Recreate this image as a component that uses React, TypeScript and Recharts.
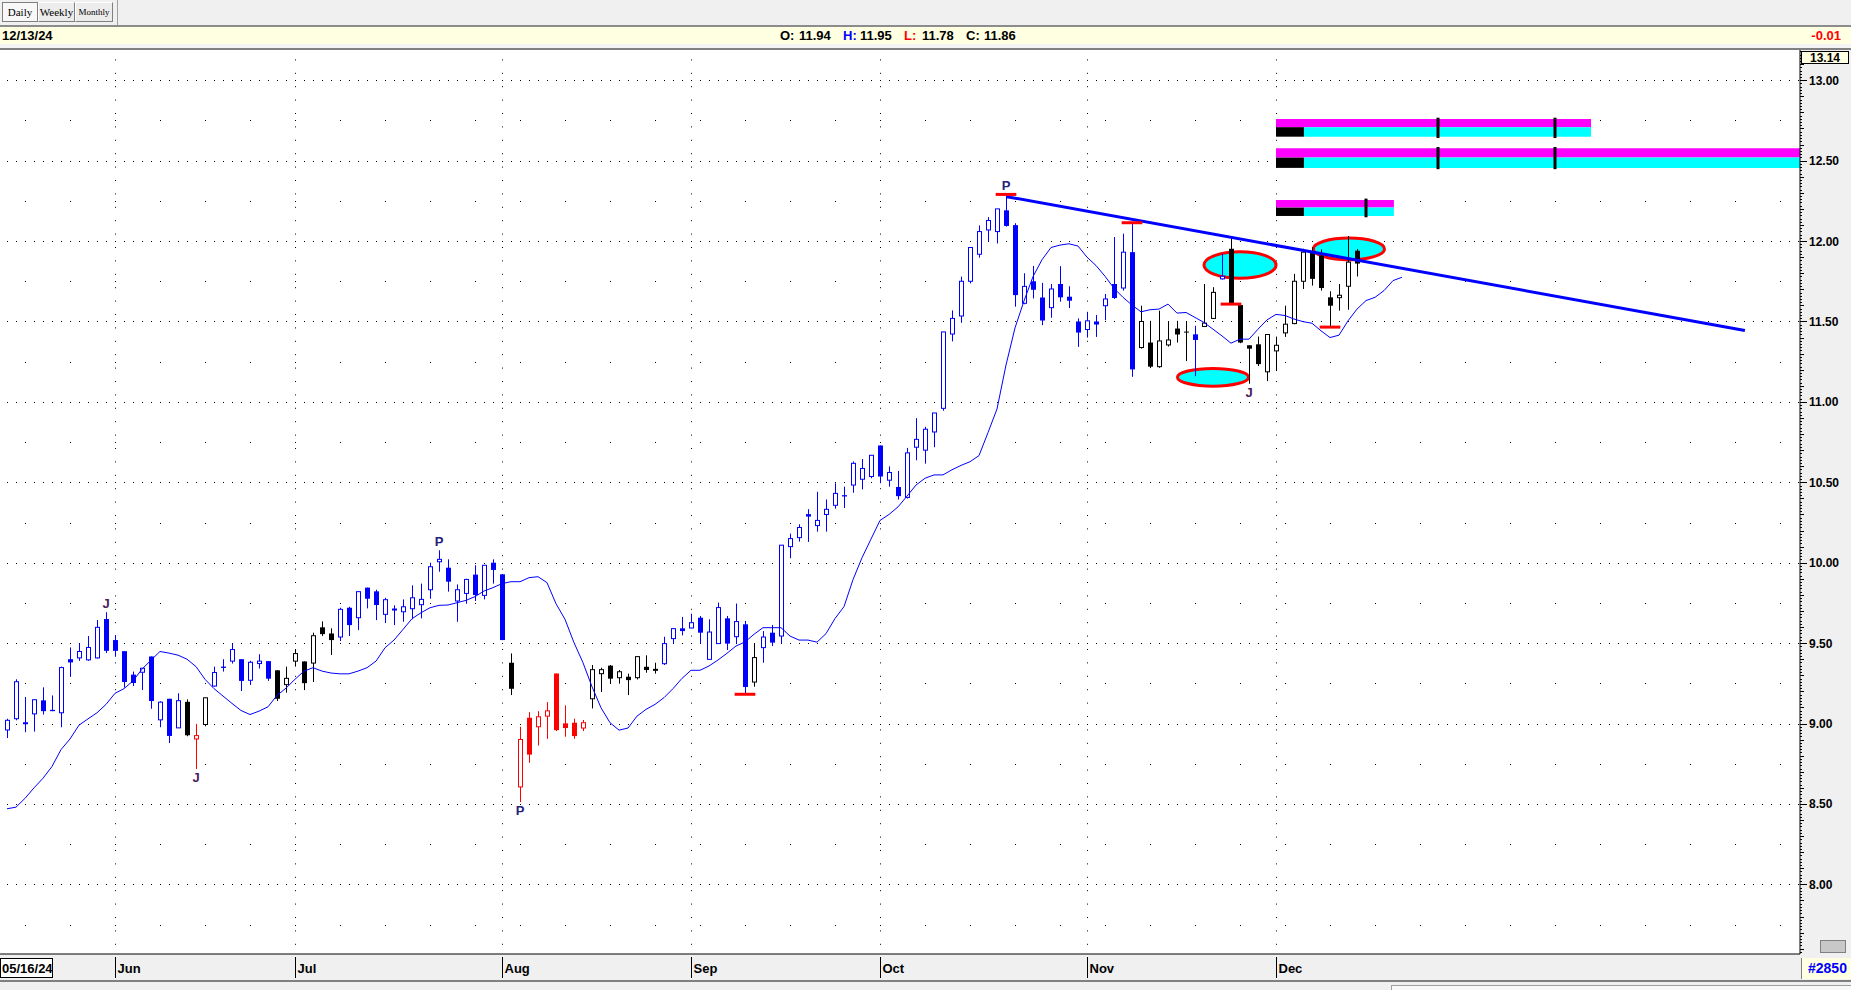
import React from 'react';
import {
  ComposedChart,
  Bar,
  Line,
  XAxis,
  YAxis,
  CartesianGrid,
  ReferenceLine,
  ReferenceArea,
  ReferenceDot,
} from 'recharts';

// daily candles, index 0 = first bar on the left
const opens = [
  8.96, 9.03, 9.0, 9.06, 9.144, 9.085, 9.067, 9.4, 9.408, 9.396,
  9.408, 9.65, 9.519, 9.45, 9.304, 9.319, 9.417, 9.023, 9.154, 8.973,
  9.135, 8.904, 8.994, 9.233, 9.354, 9.388, 9.4, 9.269, 9.373, 9.388,
  9.331, 9.242, 9.388, 9.386, 9.376, 9.598, 9.56, 9.538, 9.72, 9.658,
  9.845, 9.822, 9.679, 9.71, 9.695, 9.714, 9.739, 9.832, 10.006, 9.969,
  9.762, 9.809, 9.926, 9.797, 10.0, 9.928, 9.378, 8.606, 9.036, 8.98,
  9.046, 9.311, 9.001, 9.005, 8.972, 9.154, 9.31, 9.36, 9.285, 9.291,
  9.285, 9.353, 9.335, 9.372, 9.528, 9.592, 9.594, 9.658, 9.399, 9.497,
  9.654, 9.54, 9.617, 9.258, 9.472, 9.565, 9.544, 10.1, 10.156, 10.302,
  10.231, 10.3, 10.357, 10.42, 10.483, 10.519, 10.536, 10.729, 10.513, 10.471,
  10.406, 10.718, 10.7, 10.813, 10.96, 11.422, 11.534, 11.75, 11.918, 12.069,
  12.059, 12.191, 12.099, 11.613, 11.75, 11.649, 11.586, 11.733, 11.654, 11.5,
  11.45, 11.5, 11.598, 11.733, 11.708, 11.931, 11.338, 11.369, 11.219, 11.354,
  11.456, 11.437, 11.42, 11.469, 11.519, 11.765, 11.952, 11.602, 11.352, 11.358,
  11.187, 11.317, 11.429, 11.487, 11.75, 11.937, 11.91, 11.65, 11.648, 11.719,
  11.94,
];
const highs = [
  9.03, 9.275, 9.165, 9.15, 9.225, 9.175, 9.354, 9.473, 9.498, 9.544,
  9.644, 9.692, 9.55, 9.45, 9.323, 9.344, 9.417, 9.138, 9.154, 9.188,
  9.15, 8.998, 9.16, 9.354, 9.4, 9.498, 9.4, 9.39, 9.431, 9.388,
  9.331, 9.354, 9.463, 9.386, 9.565, 9.635, 9.592, 9.72, 9.726, 9.822,
  9.845, 9.832, 9.782, 9.735, 9.772, 9.859, 9.87, 10.0, 10.077, 10.021,
  9.865, 9.9, 9.984, 9.984, 10.021, 9.928, 9.436, 8.98, 9.071, 9.077,
  9.133, 9.311, 9.113, 9.03, 9.022, 9.364, 9.347, 9.364, 9.333, 9.31,
  9.418, 9.424, 9.378, 9.54, 9.592, 9.663, 9.683, 9.669, 9.648, 9.752,
  9.669, 9.746, 9.638, 9.499, 9.575, 9.613, 10.109, 10.181, 10.239, 10.333,
  10.441, 10.393, 10.494, 10.473, 10.63, 10.645, 10.668, 10.729, 10.599, 10.571,
  10.714, 10.899, 10.845, 10.931, 11.435, 11.569, 11.779, 11.96, 12.097, 12.149,
  12.2, 12.29, 12.111, 11.8, 11.845, 11.74, 11.733, 11.844, 11.719, 11.519,
  11.56, 11.54, 11.671, 12.025, 12.046, 12.114, 11.598, 11.504, 11.567, 11.5,
  11.504, 11.5, 11.473, 11.733, 11.713, 11.921, 12.025, 11.608, 11.352, 11.406,
  11.421, 11.406, 11.598, 11.796, 11.952, 11.962, 11.948, 11.688, 11.733, 12.031,
  11.95,
];
const lows = [
  8.91, 9.02, 8.946, 8.95, 9.056, 9.077, 8.977, 9.29, 9.39, 9.39,
  9.404, 9.438, 9.415, 9.223, 9.233, 9.208, 9.092, 8.977, 8.879, 8.973,
  8.921, 8.717, 8.983, 9.229, 9.323, 9.373, 9.202, 9.24, 9.342, 9.265,
  9.14, 9.192, 9.354, 9.208, 9.258, 9.544, 9.426, 9.513, 9.544, 9.581,
  9.716, 9.643, 9.625, 9.612, 9.633, 9.648, 9.654, 9.776, 9.944, 9.82,
  9.633, 9.745, 9.762, 9.772, 9.87, 9.519, 9.177, 8.511, 8.756, 8.863,
  8.905, 8.953, 8.918, 8.905, 8.953, 9.094, 9.196, 9.25, 9.248, 9.177,
  9.274, 9.316, 9.31, 9.364, 9.497, 9.548, 9.592, 9.497, 9.399, 9.497,
  9.457, 9.497, 9.185, 9.229, 9.378, 9.482, 9.497, 10.028, 10.131, 10.129,
  10.193, 10.193, 10.336, 10.34, 10.435, 10.456, 10.525, 10.494, 10.473, 10.393,
  10.399, 10.637, 10.616, 10.718, 10.945, 11.376, 11.492, 11.737, 11.897, 11.996,
  11.985, 12.09, 11.592, 11.607, 11.643, 11.477, 11.523, 11.623, 11.583, 11.342,
  11.4, 11.404, 11.508, 11.64, 11.692, 11.156, 11.331, 11.21, 11.212, 11.344,
  11.369, 11.254, 11.16, 11.469, 11.515, 11.76, 11.608, 11.365, 11.113, 11.223,
  11.129, 11.192, 11.404, 11.483, 11.702, 11.723, 11.692, 11.463, 11.567, 11.573,
  11.78,
];
const closes = [
  9.02, 9.26, 9.005, 9.148, 9.077, 9.077, 9.348, 9.38, 9.448, 9.473,
  9.598, 9.452, 9.452, 9.258, 9.252, 9.344, 9.14, 9.133, 8.923, 9.142,
  8.927, 8.925, 9.16, 9.317, 9.346, 9.46, 9.265, 9.381, 9.388, 9.279,
  9.154, 9.281, 9.435, 9.251, 9.546, 9.556, 9.519, 9.71, 9.612, 9.82,
  9.776, 9.737, 9.77, 9.712, 9.726, 9.782, 9.772, 9.975, 10.021, 9.882,
  9.832, 9.896, 9.799, 9.984, 9.955, 9.519, 9.216, 8.901, 8.807, 9.042,
  9.079, 8.959, 8.972, 8.922, 9.005, 9.335, 9.335, 9.279, 9.322, 9.27,
  9.416, 9.333, 9.337, 9.497, 9.59, 9.575, 9.627, 9.565, 9.569, 9.721,
  9.497, 9.634, 9.227, 9.41, 9.538, 9.503, 10.109, 10.15, 10.219, 10.287,
  10.263, 10.332, 10.431, 10.412, 10.618, 10.586, 10.668, 10.536, 10.561, 10.414,
  10.683, 10.767, 10.83, 10.931, 11.435, 11.519, 11.75, 11.96, 12.059, 12.128,
  12.2, 12.094, 11.664, 11.718, 11.697, 11.506, 11.702, 11.65, 11.629, 11.431,
  11.504, 11.481, 11.64, 11.646, 11.931, 11.202, 11.5, 11.219, 11.379, 11.385,
  11.419, 11.433, 11.385, 11.49, 11.681, 11.781, 11.608, 11.369, 11.331, 11.235,
  11.419, 11.352, 11.483, 11.75, 11.931, 11.765, 11.708, 11.598, 11.663, 11.869,
  11.86,
];
// b = blue, k = black, r = red
const candleColors = (
  'bbbbbbbbbbbbbbbbbbbb' + 'krkbbbbbbbkkkkkkkbbb' + 'bbbbbbbbbbbbbbbbkrrr' +
  'rrrrrkkkkkkkkbbbbbbb' + 'bbbkbbbbbbbbbbbbbbbb' + 'bbbbbbbbbbbbbbbbbbbb' +
  'bbbbbbkkkkkkbkkbkkkk' + 'kkkkkkkkkkk'
).split('');

// displaced moving average, runs 5 bars past the last candle
const movingAvg = [
  8.47, 8.48, 8.535, 8.6, 8.66, 8.733, 8.838, 8.904, 8.99, 9.029,
  9.067, 9.119, 9.188, 9.217, 9.265, 9.338, 9.394, 9.448, 9.438, 9.425,
  9.4, 9.354, 9.275, 9.217, 9.171, 9.125, 9.081, 9.056, 9.077, 9.104,
  9.175, 9.22, 9.275, 9.326, 9.347, 9.326, 9.314, 9.309, 9.309, 9.326,
  9.347, 9.388, 9.471, 9.519, 9.585, 9.652, 9.689, 9.72, 9.735, 9.737,
  9.751, 9.766, 9.789, 9.824, 9.845, 9.87, 9.882, 9.882, 9.907, 9.913,
  9.876, 9.745, 9.648, 9.503, 9.378, 9.229, 9.098, 9.005, 8.959, 8.972,
  9.046, 9.088, 9.119, 9.161, 9.217, 9.281, 9.331, 9.331, 9.358, 9.395,
  9.437, 9.482, 9.507, 9.555, 9.596, 9.596, 9.596, 9.544, 9.519, 9.519,
  9.506, 9.559, 9.653, 9.727, 9.895, 10.031, 10.147, 10.263, 10.3, 10.347,
  10.414, 10.483, 10.525, 10.546, 10.546, 10.578, 10.605, 10.628, 10.666, 10.809,
  10.956, 11.229, 11.46, 11.628, 11.779, 11.884, 11.96, 11.975, 11.983, 11.969,
  11.9, 11.848, 11.781, 11.706, 11.65, 11.602, 11.56, 11.573, 11.577, 11.608,
  11.552, 11.556, 11.525, 11.494, 11.452, 11.41, 11.365, 11.39, 11.39, 11.452,
  11.51, 11.544, 11.537, 11.515, 11.499, 11.489, 11.442, 11.4, 11.415, 11.504,
  11.577, 11.63, 11.65, 11.692, 11.754, 11.775,
];

const xStart = -7 / 9;
const xEnd = 1793 / 9;
const dateTicks = [xStart, 12, 32, 55, 76, 97, 120, 141];
const dateLabels = ['05/16/24', 'Jun', 'Jul', 'Aug', 'Sep', 'Oct', 'Nov', 'Dec'];
const priceLabels = [8, 8.5, 9, 9.5, 10, 10.5, 11, 11.5, 12, 12.5, 13];
const quarterLevels = [7.75, 8.25, 8.75, 9.25, 9.75, 10.25, 10.75, 11.25, 11.75, 12.25, 12.75];

const pivots = [
  { i: 11, text: 'J', side: 'top' },
  { i: 21, text: 'J', side: 'bottom' },
  { i: 48, text: 'P', side: 'top' },
  { i: 57, text: 'P', side: 'bottom' },
  { i: 111, text: 'P', side: 'top' },
  { i: 138, text: 'J', side: 'bottom' },
];
const redMarks = [
  { i: 82, price: 9.182 },
  { i: 111, price: 12.29 },
  { i: 125, price: 12.114 },
  { i: 136, price: 11.608 },
  { i: 147, price: 11.465 },
];
const trendLine = [
  { x: 111.1, y: 12.276 },
  { x: 193.1, y: 11.444 },
];
const ovals = [
  { x1: 133.0, x2: 141.0, y1: 11.768, y2: 11.934 },
  { x1: 130.05, x2: 137.95, y1: 11.098, y2: 11.208 },
  { x1: 145.15, x2: 153.05, y1: 11.883, y2: 12.019 },
];
const targetBars = [
  { x1: 141, x2: 176, split: 144.1, top: [12.708, 12.759], bottom: [12.649, 12.708], marks: [159, 172] },
  { x1: 141, x2: 205, split: 144.1, top: [12.519, 12.577], bottom: [12.455, 12.519], marks: [159, 172] },
  { x1: 141, x2: 154.1, split: 144.1, top: [12.208, 12.256], bottom: [12.156, 12.208], marks: [151] },
];

const COLORS: Record<string, string> = { b: '#0000ff', k: '#000000', r: '#ff0000' };

const chartData = movingAvg.map((ma, i) =>
  i < closes.length
    ? {
        i,
        ma,
        open: opens[i],
        high: highs[i],
        low: lows[i],
        close: closes[i],
        color: candleColors[i],
        range: [lows[i], highs[i]],
      }
    : { i, ma }
);

const yTicks: number[] = [];
for (let k = 379; k <= 659; k++) yTicks.push(k / 50);

const Candle = (props: any) => {
  const { x, y, width, height, payload } = props;
  if (!payload || payload.high == null) return null;
  const top = Math.min(y, y + height);
  const h = Math.abs(height);
  const span = payload.high - payload.low;
  const k = span > 0 ? h / span : 0;
  const py = (v: number) => top + (payload.high - v) * k;
  const cx = Math.floor(x + width / 2) + 0.5;
  const col = COLORS[payload.color];
  const up = payload.close >= payload.open;
  const bTop = py(Math.max(payload.open, payload.close));
  const bBot = py(Math.min(payload.open, payload.close));
  const bh = Math.max(bBot - bTop, 1);
  return (
    <g>
      <line x1={cx} x2={cx} y1={top} y2={top + h} stroke={col} strokeWidth={1} />
      {up ? (
        <rect x={cx - 2} y={bTop} width={4} height={bh} fill="#ffffff" stroke={col} strokeWidth={1} />
      ) : (
        <rect x={cx - 2.5} y={bTop} width={5} height={bh} fill={col} />
      )}
    </g>
  );
};

const YTick = (props: any) => {
  const { x, y, payload } = props;
  const v = payload.value;
  const hv = Math.round(v * 100);
  const x0 = 1800;
  if (hv % 50 === 0) {
    return (
      <g>
        <line x1={x0} x2={x0 + 7} y1={Math.round(y) + 0.5} y2={Math.round(y) + 0.5} stroke="#000" />
        <text x={x0 + 9} y={y + 4.5} fontSize={12} fontWeight="bold" fill="#000">
          {v.toFixed(2)}
        </text>
      </g>
    );
  }
  if (hv % 10 === 0) {
    return <line x1={x0} x2={x0 + 4} y1={Math.round(y) + 0.5} y2={Math.round(y) + 0.5} stroke="#000" />;
  }
  return <line x1={x0} x2={x0 + 2} y1={Math.round(y) + 0.5} y2={Math.round(y) + 0.5} stroke="#000" />;
};

const XTick = (props: any) => {
  const { x, y, payload } = props;
  const idx = dateTicks.indexOf(payload.value);
  const label = dateLabels[idx];
  if (idx === 0) {
    return (
      <g>
        <rect x={0.5} y={y + 4.5} width={52} height={19} fill="#ffffff" stroke="#000" />
        <text x={2} y={y + 19} fontSize={13} fontWeight="bold" fill="#000">
          {label}
        </text>
      </g>
    );
  }
  const lx = Math.round(x) + 0.5;
  return (
    <g>
      <line x1={lx} x2={lx} y1={y + 3} y2={y + 24} stroke="#000" />
      <text x={lx + 2} y={y + 19} fontSize={13} fontWeight="bold" fill="#000">
        {label}
      </text>
    </g>
  );
};

const dotRow = (dash: string, offset: number) => (p: any) => {
  const yy = Math.round(p.y1) + 0.5;
  return (
    <line
      key={`r-${dash}-${p.index}`}
      x1={p.x1}
      x2={p.x2}
      y1={yy}
      y2={yy}
      stroke="#000"
      strokeDasharray={dash}
      strokeDashoffset={offset}
    />
  );
};

const dotCol = (p: any) => {
  const xx = Math.round(p.x1) + 0.5;
  return (
    <line
      key={`c-${p.index}`}
      x1={xx}
      x2={xx}
      y1={p.y1}
      y2={p.y2}
      stroke="#000"
      strokeDasharray="1 12.4"
      strokeDashoffset={4}
    />
  );
};

const ovalShape = (p: any) => (
  <ellipse
    cx={p.x + p.width / 2}
    cy={p.y + p.height / 2}
    rx={Math.abs(p.width) / 2}
    ry={Math.abs(p.height) / 2}
    fill="#00ffff"
    stroke="#ff0000"
    strokeWidth={3}
  />
);

const btn = (left: number, width: number, text: string, size: number, pressed: boolean) => (
  <div
    style={{
      position: 'absolute',
      left,
      top: 2,
      width,
      height: 20,
      boxSizing: 'border-box',
      background: pressed ? '#f8f8f8' : '#ececec',
      borderTop: pressed ? '1px solid #808080' : '1px solid #ffffff',
      borderLeft: pressed ? '1px solid #808080' : '1px solid #ffffff',
      borderRight: '1px solid #808080',
      borderBottom: '1px solid #808080',
      fontFamily: '"Liberation Serif", serif',
      fontSize: size,
      lineHeight: '18px',
      textAlign: 'center',
      color: '#000',
    }}
  >
    {text}
  </div>
);

export default function App() {
  return (
    <div
      style={{
        position: 'absolute',
        left: 0,
        top: 0,
        width: 1851,
        height: 990,
        overflow: 'hidden',
        background: '#ffffff',
        fontFamily: '"Liberation Sans", Arial, sans-serif',
      }}
    >
      <div style={{ position: 'absolute', left: 0, top: 0, width: 1851, height: 25, background: '#f0f0f0' }}>
        {btn(2, 36, 'Daily', 11, true)}
        {btn(38, 37, 'Weekly', 11, false)}
        {btn(75, 38, 'Monthly', 9, false)}
        <div style={{ position: 'absolute', left: 117, top: 0, width: 1, height: 25, background: '#a0a0a0' }} />
      </div>
      <div style={{ position: 'absolute', left: 0, top: 25, width: 1851, height: 2, background: '#8c8c8c' }} />
      <div
        style={{
          position: 'absolute',
          left: 0,
          top: 27,
          width: 1851,
          height: 17,
          background: '#ffffe1',
          fontSize: 13,
          fontWeight: 'bold',
          lineHeight: '17px',
          color: '#000',
        }}
      >
        <span style={{ position: 'absolute', left: 2 }}>12/13/24</span>
        <span style={{ position: 'absolute', left: 780 }}>O:</span>
        <span style={{ position: 'absolute', left: 799 }}>11.94</span>
        <span style={{ position: 'absolute', left: 843, color: '#0000ff' }}>H:</span>
        <span style={{ position: 'absolute', left: 860 }}>11.95</span>
        <span style={{ position: 'absolute', left: 904, color: '#ff0000' }}>L:</span>
        <span style={{ position: 'absolute', left: 922 }}>11.78</span>
        <span style={{ position: 'absolute', left: 966 }}>C:</span>
        <span style={{ position: 'absolute', left: 984 }}>11.86</span>
        <span style={{ position: 'absolute', right: 10, color: '#ff0000' }}>-0.01</span>
      </div>
      <div style={{ position: 'absolute', left: 0, top: 44, width: 1851, height: 4, background: '#f4f4f4' }} />
      <div style={{ position: 'absolute', left: 0, top: 48, width: 1851, height: 2, background: '#808080' }} />

      <div style={{ position: 'absolute', left: 1800, top: 50, width: 51, height: 904, background: '#f0f0f0' }} />
      <div style={{ position: 'absolute', left: 0, top: 954, width: 1851, height: 26, background: '#f0f0f0' }} />
      <div style={{ position: 'absolute', left: 0, top: 980, width: 1851, height: 2, background: '#808080' }} />
      <div style={{ position: 'absolute', left: 0, top: 982, width: 1851, height: 8, background: '#f0f0f0' }} />
      <div
        style={{
          position: 'absolute',
          left: 1391,
          top: 985,
          width: 460,
          height: 10,
          border: '1px solid #a0a0a0',
          background: '#f8f8f8',
        }}
      />

      <div style={{ position: 'absolute', left: 0, top: 50 }}>
        <ComposedChart
          width={1851}
          height={940}
          data={chartData}
          margin={{ top: 0, right: 0, bottom: 10, left: 0 }}
        >
          <CartesianGrid
            horizontal={dotRow('1 8', 2)}
            vertical={false}
            horizontalValues={priceLabels}
          />
          <CartesianGrid
            horizontal={dotRow('1 44', 20)}
            vertical={dotCol}
            horizontalValues={quarterLevels}
            verticalValues={dateTicks.slice(1)}
          />
          <XAxis
            dataKey="i"
            type="number"
            domain={[xStart, xEnd]}
            allowDataOverflow
            ticks={dateTicks}
            interval={0}
            tick={XTick}
            tickLine={false}
            tickSize={0}
            tickMargin={0}
            height={26}
            axisLine={{ stroke: '#000' }}
          />
          <YAxis
            orientation="right"
            type="number"
            width={51}
            domain={[7.567, 13.188]}
            allowDataOverflow
            ticks={yTicks}
            interval={0}
            tick={YTick}
            tickLine={false}
            tickSize={0}
            tickMargin={0}
            axisLine={{ stroke: '#000' }}
          />
          {targetBars.map((t, n) => (
            <ReferenceArea
              key={`tm-${n}`}
              x1={t.x1}
              x2={t.x2}
              y1={t.top[0]}
              y2={t.top[1]}
              fill="#ff00ff"
              fillOpacity={1}
              ifOverflow="hidden"
            />
          ))}
          {targetBars.map((t, n) => (
            <ReferenceArea
              key={`tc-${n}`}
              x1={t.split}
              x2={t.x2}
              y1={t.bottom[0]}
              y2={t.bottom[1]}
              fill="#00ffff"
              fillOpacity={1}
              ifOverflow="hidden"
            />
          ))}
          {targetBars.map((t, n) => (
            <ReferenceArea
              key={`tk-${n}`}
              x1={t.x1}
              x2={t.split}
              y1={t.bottom[0]}
              y2={t.bottom[1]}
              fill="#000000"
              fillOpacity={1}
            />
          ))}
          {targetBars.flatMap((t, n) =>
            t.marks.map((m) => (
              <ReferenceLine
                key={`tt-${n}-${m}`}
                segment={[
                  { x: m, y: t.bottom[0] - 0.008 },
                  { x: m, y: t.top[1] + 0.008 },
                ]}
                stroke="#000"
                strokeWidth={3}
              />
            ))
          )}
          {ovals.map((o, n) => (
            <ReferenceArea
              key={`ov-${n}`}
              x1={o.x1}
              x2={o.x2}
              y1={o.y1}
              y2={o.y2}
              shape={ovalShape}
            />
          ))}
          <ReferenceLine segment={trendLine} stroke="#0000ff" strokeWidth={3} />
          <Line
            dataKey="ma"
            type="linear"
            stroke="#0000ff"
            strokeWidth={1}
            dot={false}
            activeDot={false}
            isAnimationActive={false}
          />
          <Bar dataKey="range" barSize={5} shape={Candle} isAnimationActive={false} />
          {redMarks.map((m, n) => (
            <ReferenceLine
              key={`rm-${n}`}
              segment={[
                { x: m.i - 1.15, y: m.price },
                { x: m.i + 1.15, y: m.price },
              ]}
              stroke="#ff0000"
              strokeWidth={3}
            />
          ))}
          {pivots.map((p, n) => (
            <ReferenceDot
              key={`pv-${n}`}
              x={p.i}
              y={p.side === 'top' ? highs[p.i] : lows[p.i]}
              r={0}
              shape={(s: any) => (
                <text
                  x={s.cx}
                  y={p.side === 'top' ? s.cy - 4 : s.cy + 13}
                  textAnchor="middle"
                  fontSize={13}
                  fontWeight="bold"
                  fill={p.text === 'P' ? '#22227a' : '#4a2060'}
                >
                  {p.text}
                </text>
              )}
            />
          ))}
        </ComposedChart>
      </div>

      <div
        style={{
          position: 'absolute',
          left: 1801,
          top: 51,
          width: 48,
          height: 13,
          boxSizing: 'border-box',
          border: '1px solid #000',
          background: '#ffffe1',
          fontSize: 12,
          fontWeight: 'bold',
          lineHeight: '12px',
          textAlign: 'center',
          color: '#000',
        }}
      >
        13.14
      </div>
      <div
        style={{
          position: 'absolute',
          left: 1820,
          top: 940,
          width: 26,
          height: 13,
          boxSizing: 'border-box',
          border: '1px solid #808080',
          background: '#c8c8c8',
        }}
      />
      <div
        style={{
          position: 'absolute',
          left: 1801,
          top: 958,
          width: 50,
          height: 21,
          boxSizing: 'border-box',
          borderLeft: '1px solid #808080',
          background: '#ffffe1',
          fontSize: 14,
          fontWeight: 'bold',
          lineHeight: '21px',
          color: '#0000ff',
          paddingLeft: 6,
        }}
      >
        #2850
      </div>
    </div>
  );
}
